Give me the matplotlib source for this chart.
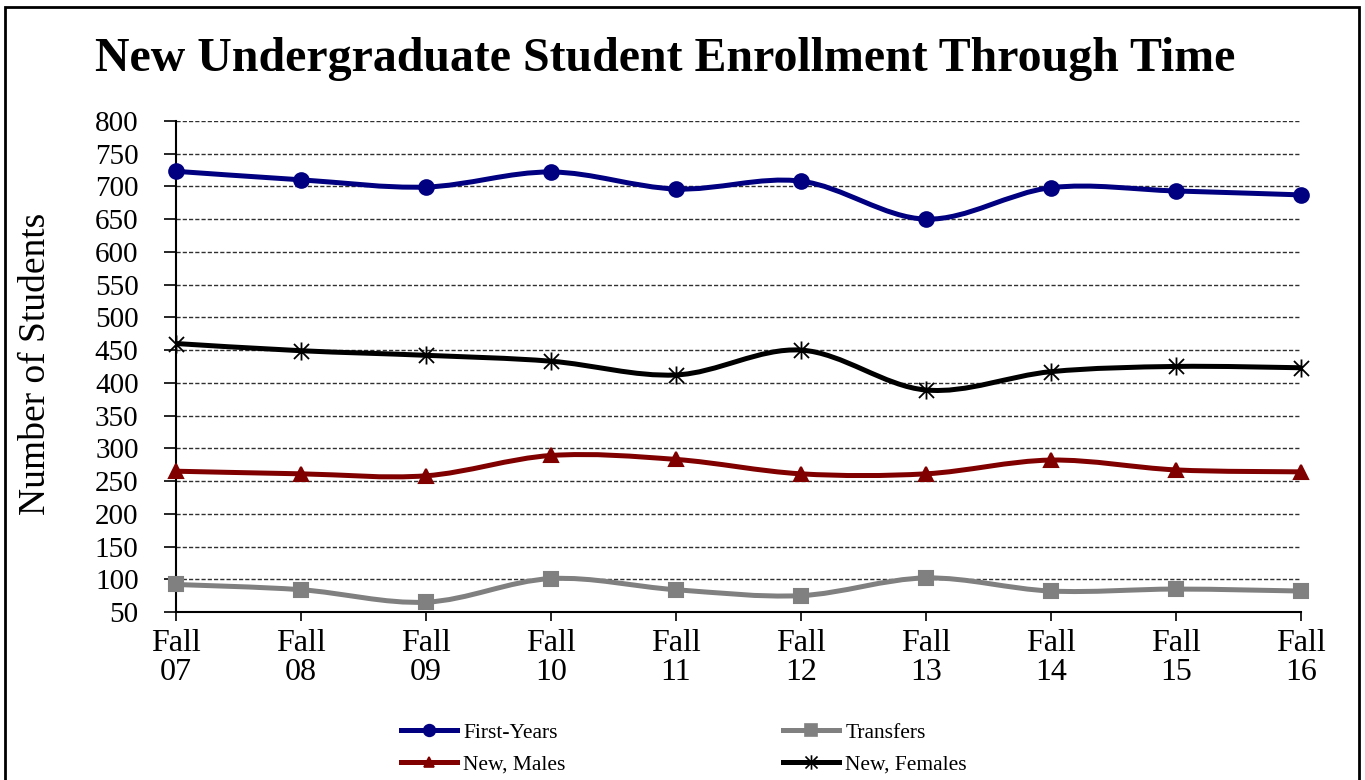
import numpy as np
import matplotlib
matplotlib.use("Agg")
import matplotlib.pyplot as plt
from matplotlib.path import Path
from matplotlib.patches import PathPatch, Rectangle
from matplotlib.lines import Line2D

# values
terms = ["Fall\n07", "Fall\n08", "Fall\n09", "Fall\n10", "Fall\n11",
         "Fall\n12", "Fall\n13", "Fall\n14", "Fall\n15", "Fall\n16"]
first_years = [723, 710, 699, 722, 696, 708, 650, 698, 693, 687]
transfers = [92, 84, 65, 101, 84, 75, 102, 82, 85, 82]
new_males = [265, 261, 258, 289, 283, 261, 261, 282, 267, 264]
new_females = [460, 449, 442, 433, 412, 450, 389, 417, 425, 423]

plt.rcParams['font.family'] = ['Liberation Serif', 'DejaVu Serif']

# asterisk marker: an X with a vertical bar
star = Path([(-1, -1), (1, 1), (-1, 1), (1, -1), (0, -1.2), (0, 1.2)],
            [Path.MOVETO, Path.LINETO, Path.MOVETO, Path.LINETO, Path.MOVETO, Path.LINETO])


def smooth_path(xs, ys):
    # Excel-style smoothed line: cubic bezier segments through each point
    p = np.column_stack([xs, ys]).astype(float)
    n = len(p)
    verts = [p[0]]
    codes = [Path.MOVETO]
    for i in range(n - 1):
        p0 = p[max(i - 1, 0)]
        p1 = p[i]
        p2 = p[i + 1]
        p3 = p[min(i + 2, n - 1)]
        verts += [p1 + (p2 - p0) / 6, p2 - (p3 - p1) / 6, p2]
        codes += [Path.CURVE4] * 3
    return Path(verts, codes)


fig = plt.figure(figsize=(13.65, 7.8), dpi=100)
ax = fig.add_axes([0.129, 0.2154, 0.824, 0.6296])

x = np.arange(len(terms))
series = [
    ("First-Years", first_years, "#000080", "o", 10.5, 1.5),
    ("Transfers", transfers, "#808080", "s", 10.5, 1.5),
    ("New, Males", new_males, "#800000", "^", 9.5, 1.5),
    ("New, Females", new_females, "black", star, 13, 1.3),
]

handles = {}
for label, vals, col, mk, ms, mew in series:
    ax.add_patch(PathPatch(smooth_path(x, vals), fill=False, edgecolor=col,
                           lw=3.6, zorder=3, capstyle='round'))
    ax.plot(x, vals, linestyle='none', marker=mk, markersize=ms, color=col,
            markerfacecolor=col, markeredgecolor=col, markeredgewidth=mew, zorder=4,
            clip_on=False)
    handles[label] = Line2D([], [], color=col, lw=3.6, marker=mk, markersize=ms * 0.8,
                            markerfacecolor=col, markeredgecolor=col, markeredgewidth=1.2)

ax.set_xlim(0, 9)
ax.set_ylim(50, 800)
ax.set_yticks(np.arange(50, 801, 50))
ax.set_xticks(x)
ax.set_xticklabels(terms, fontsize=23, linespacing=1.0)
ax.tick_params(axis='y', labelsize=21, length=9, width=1.2, pad=18)
ax.tick_params(axis='x', length=6.5, width=1.2, pad=6)
ax.grid(axis='y', linestyle=(0, (3, 1.5)), color='#303030', lw=1)
ax.set_axisbelow(True)
for s in ['top', 'right']:
    ax.spines[s].set_visible(False)
for s in ['left', 'bottom']:
    ax.spines[s].set_linewidth(1.5)

fig.text(0.487, 0.909, "New Undergraduate Student Enrollment Through Time",
         ha='center', va='baseline', fontsize=34.5, fontweight='bold')
fig.text(0.026, 0.533, "Number of Students", rotation=90, ha='center', va='center',
         fontsize=27)

# legend fills column-wise, so order gives rows: First-Years/Transfers, Males/Females
order = ["First-Years", "New, Males", "Transfers", "New, Females"]
fig.legend([handles[k] for k in order], order, loc='center', ncol=2,
           bbox_to_anchor=(0.501, 0.040), frameon=False, fontsize=15.5,
           handlelength=2.6, handletextpad=0.3, columnspacing=10.1, labelspacing=0.55)

fig.patches.append(Rectangle((5 / 1365, -0.05), 1354 / 1365, 1.05 - 7 / 780,
                             transform=fig.transFigure, fill=False, lw=2,
                             edgecolor='black'))

fig.savefig("out.png", dpi=100)
